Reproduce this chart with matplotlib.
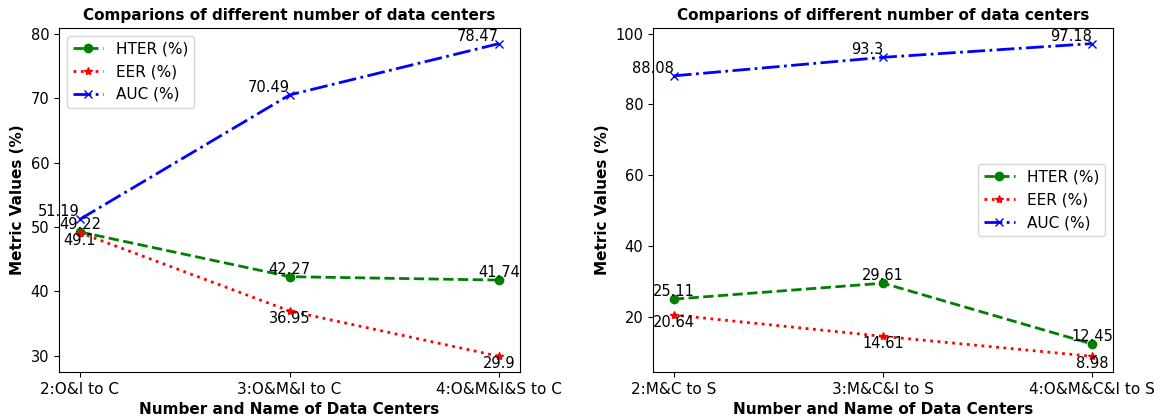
import matplotlib.pyplot as plt

# left panel: target C
left_labels = ["2:O&I to C", "3:O&M&I to C", "4:O&M&I&S to C"]
left_hter = [49.22, 42.27, 41.74]
left_eer = [49.1, 36.95, 29.9]
left_auc = [51.19, 70.49, 78.47]

# right panel: target S
right_labels = ["2:M&C to S", "3:M&C&I to S", "4:O&M&C&I to S"]
right_hter = [25.11, 29.61, 12.45]
right_eer = [20.64, 14.61, 8.98]
right_auc = [88.08, 93.3, 97.18]

TITLE = "Comparions of different number of data centers"


def draw_panel(ax, labels, hter, eer, auc, legend_loc):
    x = list(range(len(labels)))
    ax.plot(x, hter, color="green", linestyle="--", marker="o", linewidth=2, label="HTER (%)")
    ax.plot(x, eer, color="red", linestyle=":", marker="*", linewidth=2, label="EER (%)")
    ax.plot(x, auc, color="blue", linestyle="-.", marker="x", linewidth=2, label="AUC (%)")

    for xi, v in zip(x, hter):
        ax.text(xi, v, f"{v}", ha="center", va="bottom", fontsize=10.5)
    for xi, v in zip(x, eer):
        ax.text(xi, v, f"{v}", ha="center", va="top", fontsize=10.5)
    for xi, v in zip(x, auc):
        ax.text(xi, v, f"{v}", ha="right", va="bottom", fontsize=10.5)

    ax.set_xticks(x)
    ax.set_xticklabels(labels)
    ax.tick_params(axis="x", labelsize=11)
    ax.tick_params(axis="y", labelsize=10.5)
    ax.set_xlabel("Number and Name of Data Centers", fontweight="bold", fontsize=11)
    ax.set_ylabel("Metric Values (%)", fontweight="bold", fontsize=11)
    ax.set_title(TITLE, fontweight="bold", fontsize=11)
    ax.legend(loc=legend_loc, fontsize=11)


fig = plt.figure(figsize=(11.61, 4.17), dpi=100)
ax1 = fig.add_axes([0.0508, 0.108, 0.3972, 0.825])
ax2 = fig.add_axes([0.5624, 0.108, 0.3963, 0.825])

draw_panel(ax1, left_labels, left_hter, left_eer, left_auc, "upper left")
draw_panel(ax2, right_labels, right_hter, right_eer, right_auc, "center right")

fig.savefig("out.png", dpi=100)
